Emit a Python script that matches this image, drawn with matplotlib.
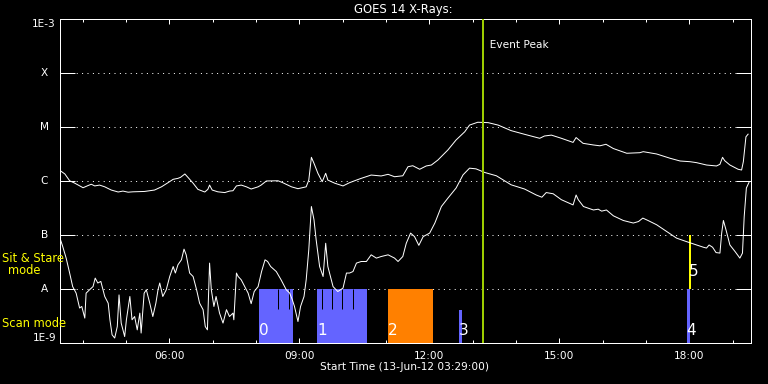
import matplotlib
matplotlib.use('Agg')
import matplotlib.pyplot as plt
from matplotlib.ticker import FixedLocator, NullLocator, FixedFormatter
import matplotlib.transforms as mtransforms

# ---------------- data ----------------
long_t = [3.49, 3.59, 3.70, 3.82, 4.01, 4.12, 4.20, 4.28, 4.39, 4.51, 4.66, 4.82, 4.93, 5.05, 5.16,
          5.43, 5.66, 5.82, 5.97, 6.09, 6.20, 6.26, 6.36, 6.43, 6.55, 6.66, 6.82, 6.89, 6.93, 6.99,
          7.12, 7.28, 7.39, 7.47, 7.55, 7.66, 7.78, 7.89, 8.05, 8.12, 8.24, 8.51, 8.62, 8.82, 8.97,
          9.16, 9.22, 9.28, 9.34, 9.43, 9.53, 9.61, 9.66, 9.82, 10.01, 10.16, 10.32, 10.43, 10.66,
          10.89, 11.05, 11.20, 11.39, 11.51, 11.62, 11.78, 11.93, 12.05, 12.20, 12.43, 12.62, 12.82,
          12.93, 13.12, 13.36, 13.59, 13.89, 14.20, 14.55, 14.66, 14.82, 15.05, 15.32, 15.39, 15.55,
          15.79, 15.94, 16.08, 16.25, 16.56, 16.86, 16.94, 17.25, 17.56, 17.79, 18.02, 18.17, 18.40,
          18.63, 18.71, 18.77, 18.82, 18.94, 19.13, 19.21, 19.25, 19.31, 19.36]
long_flux = [1.54e-6, 1.35e-6, 1.01e-6, 9.1e-7, 7.5e-7, 8.2e-7, 8.7e-7, 8.1e-7, 8.4e-7, 7.8e-7,
             6.8e-7, 6.25e-7, 6.5e-7, 6.2e-7, 6.3e-7, 6.4e-7, 6.8e-7, 7.8e-7, 9.3e-7, 1.075e-6,
             1.12e-6, 1.17e-6, 1.35e-6, 1.17e-6, 9.1e-7, 7.0e-7, 6.25e-7, 7.0e-7, 8.4e-7, 6.8e-7,
             6.3e-7, 6.1e-7, 6.5e-7, 6.6e-7, 8.1e-7, 8.4e-7, 7.8e-7, 7.1e-7, 7.8e-7, 8.4e-7,
             1.0e-6, 1.01e-6, 9.3e-7, 7.8e-7, 7.2e-7, 7.8e-7, 1.04e-6, 2.75e-6, 2.13e-6, 1.39e-6,
             9.7e-7, 1.39e-6, 1.04e-6, 9.1e-7, 8.1e-7, 9.3e-7, 1.04e-6, 1.12e-6, 1.29e-6, 1.24e-6,
             1.33e-6, 1.20e-6, 1.25e-6, 1.84e-6, 1.92e-6, 1.65e-6, 1.90e-6, 1.98e-6, 2.45e-6, 3.76e-6,
             5.77e-6, 8.2e-6, 1.09e-5, 1.23e-5, 1.21e-5, 1.09e-5, 8.6e-6, 7.35e-6, 6.2e-6, 6.84e-6,
             7.1e-6, 6.2e-6, 5.2e-6, 6.4e-6, 5.0e-6, 4.66e-6, 4.5e-6, 4.8e-6, 4.0e-6, 3.27e-6,
             3.35e-6, 3.5e-6, 3.17e-6, 2.64e-6, 2.35e-6, 2.28e-6, 2.19e-6, 1.98e-6, 1.90e-6, 2.04e-6,
             2.75e-6, 2.38e-6, 1.98e-6, 1.65e-6, 1.6e-6, 2.28e-6, 6.6e-6, 7.4e-6]

short_t = [3.49, 3.54, 3.62, 3.70, 3.77, 3.85, 3.93, 3.98, 4.05, 4.08,
           4.16, 4.24, 4.29, 4.35, 4.42, 4.51, 4.59, 4.63, 4.68, 4.74,
           4.80, 4.84, 4.89, 4.97, 5.01, 5.09, 5.14, 5.20, 5.26, 5.32,
           5.35, 5.42, 5.47, 5.55, 5.62, 5.69, 5.74, 5.78, 5.85, 5.93,
           6.01, 6.09, 6.14, 6.20, 6.28, 6.34, 6.39, 6.47, 6.55, 6.63,
           6.70, 6.78, 6.83, 6.88, 6.93, 6.97, 7.03, 7.08, 7.16, 7.24,
           7.32, 7.39, 7.47, 7.49, 7.55, 7.59, 7.66, 7.74, 7.82, 7.89,
           7.96, 8.05, 8.13, 8.21, 8.27, 8.34, 8.47, 8.58, 8.70, 8.78,
           8.84, 8.89, 8.97, 9.03, 9.11, 9.16, 9.22, 9.28, 9.34, 9.39,
           9.47, 9.55, 9.61, 9.66, 9.78, 9.89, 10.01, 10.09, 10.16, 10.24,
           10.32, 10.43, 10.55, 10.66, 10.78, 10.89, 11.05, 11.20, 11.28, 11.39,
           11.47, 11.57, 11.66, 11.76, 11.86, 12.01, 12.13, 12.28, 12.43, 12.62,
           12.78, 12.93, 13.08, 13.28, 13.55, 13.89, 14.20, 14.47, 14.60, 14.70,
           14.86, 15.05, 15.32, 15.39, 15.44, 15.56, 15.79, 15.90, 15.98, 16.09,
           16.25, 16.48, 16.71, 16.83, 16.93, 17.05, 17.25, 17.48, 17.71, 17.94,
           18.17, 18.33, 18.40, 18.46, 18.54, 18.62, 18.71, 18.75, 18.79, 18.85,
           18.94, 19.06, 19.17, 19.23, 19.27, 19.32, 19.38]
short_flux = [8.1e-8, 6.1e-8, 3.7e-8, 1.96e-8, 1.10e-8, 8.3e-9, 4.4e-9, 4.7e-9, 2.86e-9, 8.3e-9,
              9.6e-9, 1.10e-8, 1.58e-8, 1.28e-8, 1.37e-8, 7.2e-9, 5.4e-9, 2.66e-9, 1.40e-9, 1.22e-9,
              2.0e-9, 7.7e-9, 2.31e-9, 1.30e-9, 2.66e-9, 7.2e-9, 2.66e-9, 3.06e-9, 1.73e-9, 3.54e-9,
              1.51e-9, 8.3e-9, 9.6e-9, 5.4e-9, 3.06e-9, 5.4e-9, 9.6e-9, 1.28e-8, 7.2e-9, 9.6e-9,
              1.69e-8, 2.59e-8, 1.96e-8, 2.79e-8, 3.45e-8, 5.45e-8, 4.27e-8, 1.96e-8, 1.69e-8, 9.6e-9,
              5.4e-9, 4.1e-9, 2.0e-9, 1.73e-9, 3.0e-8, 9.6e-9, 4.7e-9, 7.2e-9, 3.54e-9, 2.31e-9,
              4.1e-9, 3.06e-9, 3.54e-9, 2.66e-9, 1.96e-8, 1.69e-8, 1.47e-8, 1.10e-8, 8.3e-9, 5.3e-9,
              8.9e-9, 1.10e-8, 2.09e-8, 3.45e-8, 3.21e-8, 2.59e-8, 2.09e-8, 1.47e-8, 9.6e-9, 8.3e-9,
              6.25e-9, 4.7e-9, 2.47e-9, 4.7e-9, 7.2e-9, 1.47e-8, 5.3e-8, 3.36e-7, 1.91e-7, 8.1e-8,
              2.59e-8, 1.69e-8, 7.0e-8, 2.59e-8, 1.10e-8, 8.9e-9, 1.03e-8, 1.96e-8, 1.96e-8, 2.09e-8,
              3.0e-8, 3.21e-8, 3.21e-8, 4.27e-8, 3.71e-8, 3.97e-8, 4.27e-8, 3.71e-8, 3.21e-8, 3.97e-8,
              7.0e-8, 1.08e-7, 9.3e-8, 6.4e-8, 9.3e-8, 1.08e-7, 1.66e-7, 3.36e-7, 4.8e-7, 7.4e-7,
              1.30e-6, 1.73e-6, 1.68e-6, 1.44e-6, 1.25e-6, 8.5e-7, 7.1e-7, 5.5e-7, 5.0e-7, 6.1e-7,
              5.8e-7, 4.5e-7, 3.6e-7, 5.5e-7, 4.5e-7, 3.36e-7, 2.9e-7, 3.0e-7, 2.76e-7, 2.9e-7,
              2.26e-7, 1.85e-7, 1.66e-7, 1.77e-7, 2.05e-7, 1.85e-7, 1.54e-7, 1.16e-7, 8.7e-8, 7.5e-8,
              6.5e-8, 5.9e-8, 5.7e-8, 6.5e-8, 5.9e-8, 4.7e-8, 4.6e-8, 1.08e-7, 1.85e-7, 1.24e-7,
              6.5e-8, 4.9e-8, 3.71e-8, 4.6e-8, 2.19e-7, 7.4e-7, 9.4e-7]

x_major_ticks = [6, 9, 12, 15, 18]
x_tick_labels = ['06:00', '09:00', '12:00', '15:00', '18:00']
x_minor_ticks = [4, 5, 7, 8, 10, 11, 13, 14, 16, 17, 19]
y_levels = [1e-9, 1e-8, 1e-7, 1e-6, 1e-5, 1e-4, 1e-3]
y_level_labels = ['1E-9', 'A', 'B', 'C', 'M', 'X', '1E-3']

scan_start = [8.07, 9.41, 11.05, 12.69, 17.94]
scan_end = [8.85, 10.56, 12.08, 12.755, 18.02]
scan_top = [1e-8, 1e-8, 1e-8, 4.1e-9, 1e-8]
scan_colors = ['#6464ff', '#6464ff', '#ff8000', '#6464ff', '#6464ff']
scan_labels = ['0', '1', '2', '3', '4']

stare_start = [17.995]
stare_end = [18.045]
stare_labels = ['5']

raster_marks = [8.52, 8.77, 9.52, 9.76, 9.98, 10.23]
raster_mark_low = 4.27e-9

event_peak = 13.23
t_start = 3.4833
t_end = 19.42

title = 'GOES 14 X-Rays:'
xlabel = 'Start Time (13-Jun-12 03:29:00)'

# ---------------- figure ----------------
plt.rcParams['font.family'] = ['DejaVu Sans']
W, H = 768, 384
fig = plt.figure(figsize=(W / 100, H / 100), dpi=100, facecolor='black')
ax_l, ax_r, ax_b, ax_t = 60.25, 750.7, 342.7, 19.3
ax = fig.add_axes([ax_l / W, 1 - ax_b / H, (ax_r - ax_l) / W, (ax_b - ax_t) / H])
ax.set_facecolor('black')
ax.set_yscale('log')
ax.set_xlim(t_start, t_end)
ax.set_ylim(1e-9, 1e-3)

px = 0.72  # one pixel in points

# grid (dotted) at decade levels
for lev in y_levels[1:-1]:
    ax.axhline(lev, color='white', lw=px, linestyle=(0, (1, 4.4)), zorder=1)

# scan mode bars
for s, e, top, c in zip(scan_start, scan_end, scan_top, scan_colors):
    ax.bar(s, top - 1e-9, bottom=1e-9, width=e - s, align='edge', color=c,
           linewidth=0, zorder=2)
# sit & stare bars
for s, e in zip(stare_start, stare_end):
    ax.bar(s, 1e-7 - 1e-8, bottom=1e-8, width=e - s, align='edge', color='#ffff00',
           linewidth=0, zorder=2)
# raster marks
ax.vlines(raster_marks, raster_mark_low, 1e-8, colors='black', lw=1.0 * px, zorder=3)

# curves
ax.plot(long_t, long_flux, color='white', lw=1.0 * px, zorder=4)
ax.plot(short_t, short_flux, color='white', lw=1.0 * px, zorder=4)

# event peak
ax.axvline(event_peak, color='#9ccc00', lw=2 * px, zorder=5)
ax.text(event_peak, 3.3e-4, '  Event Peak', color='white', fontsize=7.6,
        ha='left', va='center', zorder=6)

# bar labels
for s, lab in zip(scan_start, scan_labels):
    ax.text(s, 1.2e-9, lab, color='white', fontsize=11, ha='left', va='bottom', zorder=6)
for s, lab in zip(stare_start, stare_labels):
    ax.text(s, 1.55e-8, lab, color='white', fontsize=11, ha='left', va='bottom', zorder=6)

# spines / ticks
for sp in ax.spines.values():
    sp.set_color('white')
    sp.set_linewidth(px)
ax.yaxis.set_major_locator(FixedLocator(y_levels))
ax.yaxis.set_minor_locator(NullLocator())
ax.tick_params(axis='y', which='major', direction='in', left=True, right=True,
               length=15 * px, width=px, color='white', labelleft=False)
ax.xaxis.set_major_locator(FixedLocator(x_major_ticks))
ax.xaxis.set_major_formatter(FixedFormatter(x_tick_labels))
ax.xaxis.set_minor_locator(FixedLocator(x_minor_ticks))
ax.tick_params(axis='x', which='major', direction='in', bottom=True, top=True,
               length=5 * px, width=px, color='white', labelcolor='white',
               labelsize=7.6, pad=8 * px)
ax.tick_params(axis='x', which='minor', direction='in', bottom=True, top=True,
               length=3 * px, width=px, color='white')

# y level labels
trans = mtransforms.blended_transform_factory(fig.transFigure, ax.transData)
for lev, lab in zip(y_levels, y_level_labels):
    va = 'center'
    if lev == y_levels[0]:
        va = 'bottom'
    elif lev == y_levels[-1]:
        va = 'top'
    ax.text(44.2 / W, lev, lab, transform=trans, color='white', fontsize=7.6,
            ha='center', va=va, clip_on=False)

# titles
fig.text(403 / W, 1 - 10 / H, title, color='white', fontsize=8.4, ha='center', va='center')
fig.text(405 / W, 1 - 367 / H, xlabel, color='white', fontsize=7.6, ha='center', va='center')

# mode labels
fig.text(2 / W, 1 - 258.5 / H, 'Sit & Stare', color='#ffff00', fontsize=8.3, ha='left', va='center')
fig.text(24.3 / W, 1 - 271 / H, 'mode', color='#ffff00', fontsize=8.3, ha='center', va='center')
fig.text(2 / W, 1 - 323.5 / H, 'Scan mode', color='#ffff00', fontsize=8.3, ha='left', va='center')

fig.savefig('out.png', dpi=100, facecolor='black')
